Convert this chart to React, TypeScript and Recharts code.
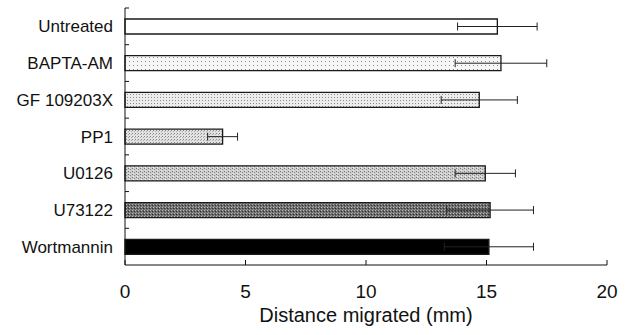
import { Bar, BarChart, Cell, ErrorBar, XAxis, YAxis } from 'recharts';

const treatments = ['Untreated', 'BAPTA-AM', 'GF 109203X', 'PP1', 'U0126', 'U73122', 'Wortmannin'];
const distanceMm = [15.45, 15.6, 14.7, 4.05, 14.95, 15.15, 15.1];
const errorMm = [1.65, 1.9, 1.58, 0.62, 1.25, 1.8, 1.85];
const xTicks = [0, 5, 10, 15, 20];

const data = treatments.map((name, i) => ({ name, distance: distanceMm[i], err: errorMm[i] }));

// bar textures, top to bottom
const fills = ['#ffffff', 'url(#dotsSparse)', 'url(#dotsDense)', 'url(#dotsDense2)', 'url(#speckle)', 'url(#darkSpeckle)', '#000000'];

const font = '"Liberation Sans", Arial, sans-serif';
const labelGap = 12;

// category label plus a small inward tick at the top edge of each row
const RowTick = (props: any) => {
  const { x, y, payload } = props;
  const half = payload?.offset ?? 0;
  const axisX = x + labelGap;
  return (
    <g>
      <text x={x} y={y} dy="0.355em" textAnchor="end" fill="#111" fontSize={17} fontFamily={font}>
        {payload.value}
      </text>
      <line x1={axisX} x2={axisX + 4} y1={y - half} y2={y - half} stroke="#111" strokeWidth={1} />
    </g>
  );
};

export default function App() {
  return (
    <div style={{ position: 'absolute', left: 0, top: 0, width: 625, height: 335, background: '#fff' }}>
      <BarChart
        width={625}
        height={335}
        data={data}
        layout="vertical"
        margin={{ top: 8, right: 18, bottom: 0, left: 0 }}
        barSize={15}
        style={{ fontFamily: font }}
      >
        <defs>
          <pattern id="dotsSparse" width="4" height="4" patternUnits="userSpaceOnUse">
            <rect width="4" height="4" fill="#f6f6f6" />
            <rect x="1" y="1" width="1" height="1" fill="#8a8a8a" />
          </pattern>
          <pattern id="dotsDense" width="3" height="3" patternUnits="userSpaceOnUse">
            <rect width="3" height="3" fill="#ececec" />
            <rect x="1" y="1" width="1" height="1" fill="#8c8c8c" />
          </pattern>
          <pattern id="dotsDense2" width="3" height="3" patternUnits="userSpaceOnUse">
            <rect width="3" height="3" fill="#e2e2e2" />
            <rect x="0" y="1" width="1" height="1" fill="#888" />
            <rect x="2" y="2" width="1" height="1" fill="#aaa" />
          </pattern>
          <pattern id="speckle" width="4" height="3" patternUnits="userSpaceOnUse">
            <rect width="4" height="3" fill="#cdcdcd" />
            <rect x="0" y="0" width="1" height="1" fill="#777" />
            <rect x="2" y="1" width="1" height="1" fill="#888" />
            <rect x="1" y="2" width="1" height="1" fill="#eee" />
          </pattern>
          <pattern id="darkSpeckle" width="3" height="3" patternUnits="userSpaceOnUse">
            <rect width="3" height="3" fill="#6a6a6a" />
            <rect x="0" y="0" width="1" height="1" fill="#bbb" />
            <rect x="2" y="1" width="1" height="1" fill="#333" />
            <rect x="1" y="2" width="1" height="1" fill="#999" />
          </pattern>
        </defs>
        <YAxis
          type="category"
          dataKey="name"
          width={125}
          axisLine={{ stroke: '#111', strokeWidth: 1 }}
          tickLine={false}
          tickSize={0}
          tickMargin={labelGap}
          interval={0}
          tick={<RowTick />}
        />
        <XAxis
          type="number"
          domain={[0, 20]}
          ticks={xTicks}
          interval={0}
          height={70}
          tickSize={-5}
          tickMargin={25}
          axisLine={{ stroke: '#111', strokeWidth: 1 }}
          tickLine={{ stroke: '#111', strokeWidth: 1 }}
          tick={{ fill: '#111', fontSize: 19, fontFamily: font }}
          label={{ value: 'Distance migrated (mm)', position: 'insideBottom', offset: 13, fill: '#111', fontSize: 20, fontFamily: font }}
        />
        <Bar dataKey="distance" stroke="#1a1a1a" strokeWidth={1.3} isAnimationActive={false}>
          {data.map((d, i) => (
            <Cell key={d.name} fill={fills[i]} />
          ))}
          <ErrorBar dataKey="err" direction="x" width={4} stroke="#222" strokeWidth={1} />
        </Bar>
      </BarChart>
    </div>
  );
}
